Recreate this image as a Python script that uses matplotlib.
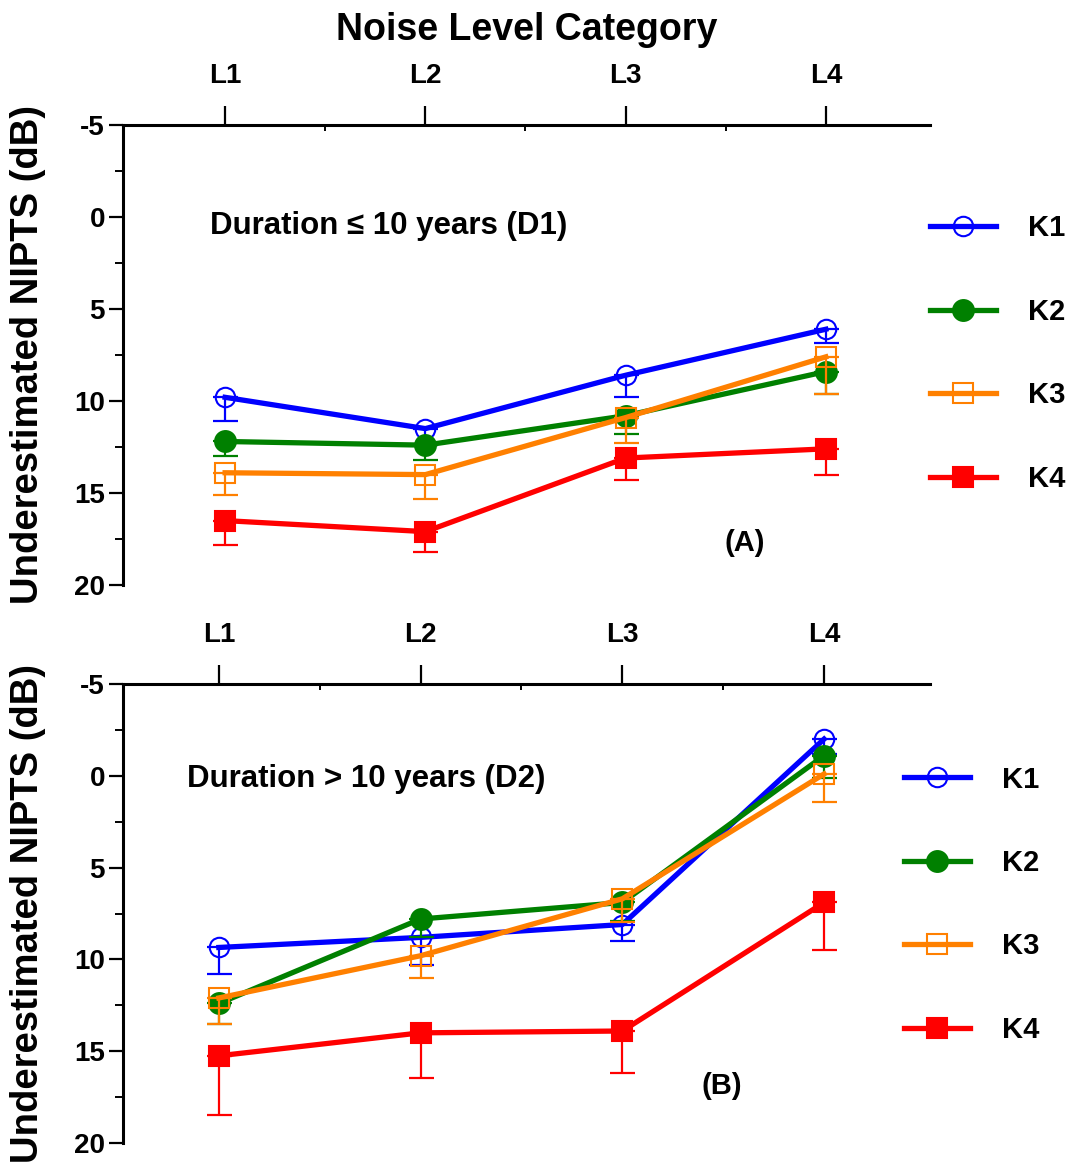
import matplotlib
matplotlib.use("Agg")
import matplotlib.pyplot as plt
from matplotlib.ticker import FixedLocator

plt.rcParams['font.family'] = ['Liberation Sans', 'DejaVu Sans']
plt.rcParams['font.weight'] = 'bold'

categories = ["L1", "L2", "L3", "L4"]
series = ["K1", "K2", "K3", "K4"]

# Panel A: Duration <= 10 years (D1)
a_K1 = [9.8, 11.5, 8.6, 6.1]
a_K2 = [12.2, 12.4, 10.8, 8.4]
a_K3 = [13.9, 14.0, 10.9, 7.6]
a_K4 = [16.5, 17.1, 13.1, 12.6]
a_K1_err = [1.3, 0.9, 1.2, 0.75]
a_K2_err = [0.8, 0.8, 1.0, 1.2]
a_K3_err = [1.2, 1.3, 1.4, 2.0]
a_K4_err = [1.3, 1.1, 1.2, 1.4]

# Panel B: Duration > 10 years (D2)
b_K1 = [9.35, 8.8, 8.1, -2.0]
b_K2 = [12.4, 7.8, 6.9, -1.1]
b_K3 = [12.1, 9.8, 6.7, -0.1]
b_K4 = [15.25, 14.0, 13.9, 6.9]
b_K1_err = [1.45, 1.5, 0.9, 0.8]
b_K2_err = [1.1, 1.0, 1.0, 1.2]
b_K3_err = [1.4, 1.2, 1.25, 1.5]
b_K4_err = [3.2, 2.45, 2.3, 2.6]

yticks = [-5, 0, 5, 10, 15, 20]

colors = ['#0000FF', '#008000', '#FF8000', '#FF0000']
markers = ['o', 'o', 's', 's']
filled = [False, True, False, True]

fig = plt.figure(figsize=(10.72, 11.67), dpi=100)
axA = fig.add_axes([123/1072, 1-585/1167, 807/1072, 460/1167])
axB = fig.add_axes([123/1072, 1-1143/1167, 807/1072, 459/1167])

def draw(ax, vals, errs, xlim, legend_anchor, note, note_xy, tag, tag_xy):
    x = list(range(1, len(categories)+1))
    handles = []
    for i, (v, e) in enumerate(zip(vals, errs)):
        c = colors[i]
        ax.errorbar(x, v, yerr=[[0]*len(e), e], fmt='none', ecolor=c,
                    elinewidth=1.6, capsize=9, capthick=1.6, zorder=2+i)
        mfc = c if filled[i] else 'none'
        ms = 15 if markers[i] == 'o' and filled[i] else 14
        h, = ax.plot(x, v, color=c, lw=3.8, marker=markers[i], ms=ms,
                     mfc=mfc, mec=c, mew=1.5, label=series[i], zorder=2.5+i)
        handles.append(h)
    ax.set_xlim(*xlim)
    ax.set_ylim(20, -5)
    ax.xaxis.tick_top()
    ax.set_xticks(x)
    ax.set_xticklabels(categories)
    ax.xaxis.set_minor_locator(FixedLocator([1.5, 2.5, 3.5]))
    ax.set_yticks(yticks)
    ax.set_yticklabels([str(t) for t in yticks])
    ax.yaxis.set_minor_locator(FixedLocator([-2.5, 2.5, 7.5, 12.5, 17.5]))
    ax.tick_params(axis='x', which='major', direction='out', length=14, width=1.6,
                   labelsize=20, pad=12)
    ax.tick_params(axis='x', which='minor', direction='in', length=4, width=1.4)
    ax.tick_params(axis='y', which='major', direction='out', length=10, width=1.6,
                   labelsize=20, pad=3)
    ax.tick_params(axis='y', which='minor', direction='out', length=6, width=1.4)
    for lab in ax.get_xticklabels() + ax.get_yticklabels():
        lab.set_fontweight('bold')
    for s in ['bottom', 'right']:
        ax.spines[s].set_visible(False)
    for s in ['top', 'left']:
        ax.spines[s].set_linewidth(2.2)
    ax.set_ylabel("Underestimated NIPTS (dB)", fontsize=27.5, fontweight='bold')
    ax.yaxis.set_label_coords(-0.095, 0.5)
    ax.text(note_xy[0], note_xy[1], note, transform=ax.transAxes, fontsize=22.5,
            fontweight='bold', ha='left', va='center')
    ax.text(tag_xy[0], tag_xy[1], tag, transform=ax.transAxes, fontsize=21,
            fontweight='bold', ha='center', va='center')
    leg = ax.legend(handles=handles, loc='center left', bbox_to_anchor=legend_anchor,
                    frameon=False, fontsize=21, handlelength=2.25, handletextpad=1.1,
                    labelspacing=1.9, borderpad=0, borderaxespad=0)
    for t in leg.get_texts():
        t.set_fontweight('bold')

draw(axA, [a_K1, a_K2, a_K3, a_K4], [a_K1_err, a_K2_err, a_K3_err, a_K4_err],
     (0.49, 4.52), (1.0, 0.503), "Duration \u2264 10 years (D1)", (0.108, 0.78),
     "(A)", (0.771, 0.091))
draw(axB, [b_K1, b_K2, b_K3, b_K4], [b_K1_err, b_K2_err, b_K3_err, b_K4_err],
     (0.525, 4.525), (0.968, 0.519), "Duration > 10 years (D2)", (0.079, 0.793),
     "(B)", (0.742, 0.124))

fig.text(527/1072, 1-30/1167, "Noise Level Category", fontsize=27,
         fontweight='bold', ha='center', va='center')

fig.savefig("out.png", dpi=100, facecolor='white')
